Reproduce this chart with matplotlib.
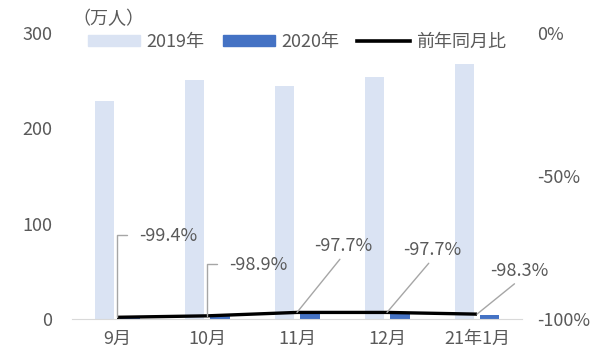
import matplotlib
matplotlib.use('Agg')
import matplotlib.pyplot as plt
import numpy as np
from matplotlib.patches import Patch
from matplotlib.lines import Line2D

plt.rcParams['font.family'] = ['Noto Sans CJK JP', 'DejaVu Sans']
plt.rcParams['font.size'] = 13

months = ['9月', '10月', '11月', '12月', '21年1月']
visitors_2019 = [229, 251, 244, 254, 268]
visitors_2020 = [1.4, 2.8, 5.6, 5.8, 4.5]
yoy = [-99.4, -98.9, -97.7, -97.7, -98.3]

c2019 = '#dae3f3'
c2020 = '#4472c4'
gray = '#595959'

fig = plt.figure(figsize=(5.91, 3.52), dpi=100)
ax = fig.add_axes([72 / 591, 1 - 319 / 352, 450 / 591, 286 / 352])
x = np.arange(len(months))
w = 0.22
ax.bar(x - 0.14, visitors_2019, width=w, color=c2019)
ax.bar(x + 0.14, visitors_2020, width=w, color=c2020)
ax.set_xlim(-0.5, len(months) - 0.5)
ax.set_ylim(0, 300)
ax.set_yticks([0, 100, 200, 300])
ax.set_xticks(x)
ax.set_xticklabels(months)
ax.tick_params(axis='y', length=0, pad=14, colors=gray, labelsize=13)
ax.tick_params(axis='x', length=0, pad=8, colors=gray, labelsize=13)
for s in ['top', 'left', 'right']:
    ax.spines[s].set_visible(False)
ax.spines['bottom'].set_color('#d9d9d9')

ax2 = ax.twinx()
ax2.plot(x, yoy, color='black', linewidth=2.4, solid_capstyle='butt')
ax2.set_ylim(-100, 0)
ax2.set_yticks([-100, -50, 0])
ax2.set_yticklabels(['-100%', '-50%', '0%'])
ax2.tick_params(axis='y', length=0, pad=11, colors=gray, labelsize=13)
for s in ['top', 'left', 'right', 'bottom']:
    ax2.spines[s].set_visible(False)

# label offsets in pixels (dx, dy up), elbow or straight leader
label_offsets = [(22, 81), (22, 51), (46, 66), (45, 62), (42, 43)]
elbow = [True, True, False, False, False]
k = 72 / 100
for i, v in enumerate(yoy):
    dx, dy = label_offsets[i]
    if elbow[i]:
        ax2.annotate(f'{v}%', xy=(x[i], v), xytext=(dx * k, dy * k),
                     textcoords='offset points', ha='left', va='center',
                     color=gray, fontsize=13,
                     arrowprops=dict(arrowstyle='-', color='#a6a6a6', lw=1,
                                     shrinkA=7, shrinkB=0, relpos=(0, 0.55),
                                     connectionstyle='angle,angleA=0,angleB=90,rad=0'))
    else:
        ax2.annotate(f'{v}%', xy=(x[i], v), xytext=(dx * k, dy * k),
                     textcoords='offset points', ha='center', va='center',
                     color=gray, fontsize=13,
                     arrowprops=dict(arrowstyle='-', color='#a6a6a6', lw=1,
                                     shrinkA=1, shrinkB=0, relpos=(0.5, 0)))

handles = [Patch(color=c2019), Patch(color=c2020), Line2D([], [], color='black', linewidth=2.6)]
fig.legend(handles, ['2019年', '2020年', '前年同月比'], loc='center',
           bbox_to_anchor=(297 / 591, 1 - 42 / 352), ncol=3, frameon=False,
           handlelength=2.9, handleheight=0.55, handletextpad=0.35, columnspacing=1.0,
           labelcolor=gray, fontsize=13)

fig.text(72 / 591, 1 - 19 / 352, '（万人）', color=gray, fontsize=13, va='center', ha='left')

fig.savefig('out.png', dpi=100)
